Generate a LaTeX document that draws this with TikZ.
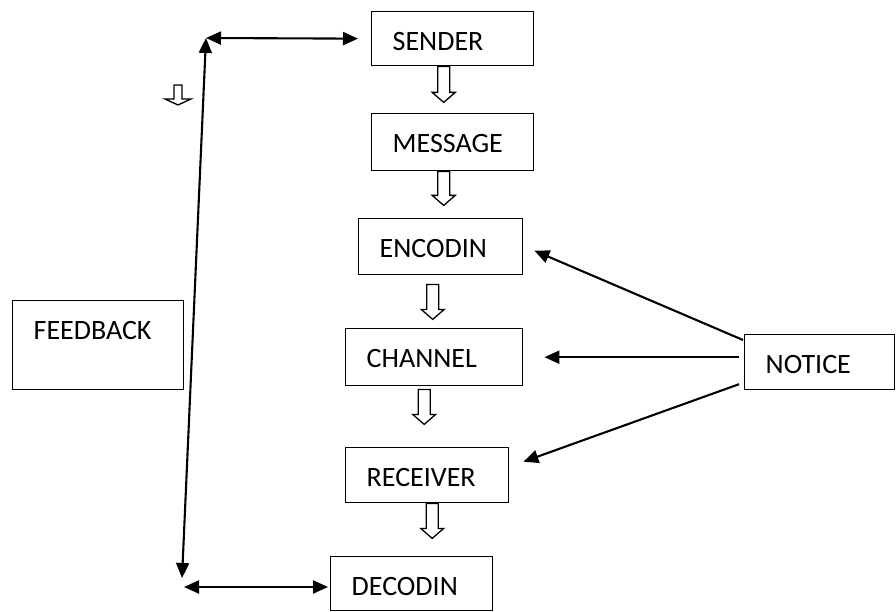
\documentclass[tikz,border=0pt]{standalone}
\usepackage{fontspec}
\setmainfont{Carlito}
\usetikzlibrary{arrows.meta,calc}
\begin{document}
\begin{tikzpicture}[x=1pt,y=-1pt,
  box/.style={draw, line width=1.4pt, anchor=north west, inner xsep=21pt, inner ysep=0pt,
    text height=39pt, align=left, font=\fontsize{28}{30}\selectfont},
  tip/.tip={Triangle[length=15pt,width=13pt]},
  arr/.style={line width=2.1pt, -tip},
  dbl/.style={line width=2.1pt, tip-tip},
  pics/hollow/.style n args={4}{code={%
    \draw[line width=1.3pt, fill=white, line join=miter]
      (-#1,0) -- (-#1,#4-#3) -- (-#2,#4-#3) -- (0,#4) -- (#2,#4-#3) -- (#1,#4-#3) -- (#1,0) -- cycle;}}
]
\useasboundingbox (0,0) rectangle (896,612);

% boxes
\node[box, text width=120pt, text depth=15pt] (sender)   at (371,11)  {SENDER};
\node[box, text width=120pt, text depth=18pt] (message)  at (371,113) {MESSAGE};
\node[box, text width=122pt, text depth=17pt] (encodin)  at (358,218) {ENCODIN};
\node[box, text width=135pt, text depth=18pt] (channel)  at (345,328) {CHANNEL};
\node[box, text width=121pt, text depth=16pt] (receiver) at (345,447) {RECEIVER};
\node[box, text width=120pt, text depth=15pt] (decodin)  at (330,556) {DECODIN};
\node[box, text width=108pt, text depth=16pt] (notice)   at (744,334) {NOTICE};
\node[box, text width=129pt, text depth=50pt] (feedback) at (12,300)  {FEEDBACK};

% hollow arrows
\pic at ([xshift=-9pt]sender.south)   {hollow={6}{11.5}{10}{36}};
\pic at ([xshift=-9pt]message.south)  {hollow={6}{11.5}{10}{34}};
\pic at ([xshift=-8pt,yshift=-9pt]encodin.south)  {hollow={6}{11.5}{10}{35}};
\pic at ([xshift=-10pt,yshift=-3pt]channel.south) {hollow={6}{11.5}{10}{35}};
\pic at ([xshift=5pt]receiver.south) {hollow={6}{11.5}{10}{35}};
\pic at (178,85) {hollow={4}{13}{6}{20}};

% feedback loop
\coordinate (fbtop) at (206,38);
\coordinate (fbdown) at (182,578);
\coordinate (fbleft) at (184,587);
\draw[dbl] (fbdown) -- (fbtop);
\draw[dbl, shorten >=13pt] (fbtop) -- (sender.west);
\draw[dbl, shorten >=2pt] (fbleft) -- (fbleft -| decodin.west);

% notice arrows
\draw[arr] ([xshift=-1pt,yshift=-6pt]notice.north west) -- ([xshift=11pt,yshift=-4pt]encodin.east);
\draw[arr] ([xshift=-5pt,yshift=5pt]notice.west) -- ([xshift=21pt]channel.east);
\draw[arr] ([xshift=-5pt,yshift=-22pt]notice.west) -- ([xshift=14pt,yshift=13.5pt]receiver.east);
\end{tikzpicture}
\end{document}
